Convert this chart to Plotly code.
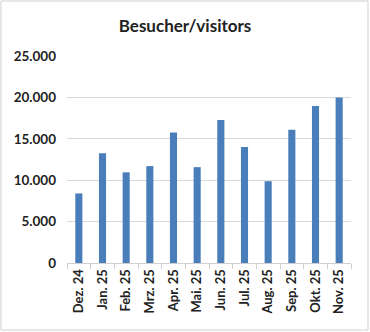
import plotly.graph_objects as go

months = ["Dez. 24", "Jan. 25", "Feb. 25", "Mrz. 25", "Apr. 25", "Mai. 25",
          "Jun. 25", "Jul. 25", "Aug. 25", "Sep. 25", "Okt. 25", "Nov. 25"]
visitors = [8400, 13250, 10950, 11700, 15750, 11580, 17280, 14000, 9880, 16080, 18950, 20000]
y_ticks = [0, 5000, 10000, 15000, 20000, 25000]
y_labels = ["<b>0</b>", "<b>5.000</b>", "<b>10.000</b>", "<b>15.000</b>", "<b>20.000</b>", "<b>25.000</b>"]

W, H = 370, 332
ml, mr, mt, mb = 67, 19, 56, 69
pw, ph = W - ml - mr, H - mt - mb

fig = go.Figure(go.Bar(x=months, y=visitors, marker_color="#4a7ebb",
                       marker_line_width=0, width=0.3))

font_fam = "Lato, 'Open Sans', sans-serif"
fig.update_layout(
    width=W, height=H,
    margin=dict(l=ml, r=mr, t=mt, b=mb),
    paper_bgcolor="white", plot_bgcolor="white",
    showlegend=False,
    title=dict(text="<b>Besucher/visitors</b>", x=0.5, xref="container", xanchor="center",
               y=1 - 26 / H, yanchor="middle",
               font=dict(family=font_fam, size=17, color="#222")),
    font=dict(family=font_fam, size=13, color="#222"),
    xaxis=dict(type="category", tickangle=-90, showgrid=False,
               tickvals=months, ticktext=["<b>" + m + "</b>" for m in months],
               showline=True, linecolor="#d0d0d0", linewidth=1,
               ticks="outside", tickson="boundaries", ticklen=5, tickcolor="#d0d0d0",
               tickfont=dict(family=font_fam, size=13, color="#222")),
    yaxis=dict(range=[0, 25000], tickvals=y_ticks, ticktext=y_labels,
               showgrid=True, gridcolor="#d9d9d9", gridwidth=1,
               zeroline=False, showline=False, ticks="", ticklabelstandoff=10,
               tickfont=dict(family=font_fam, size=13.5, color="#222")),
    shapes=[dict(type="rect", xref="paper", yref="paper",
                 x0=(1 - ml) / pw, x1=(W - 2 - ml) / pw,
                 y0=-(mb - 2) / ph, y1=1 + (mt - 1) / ph,
                 line=dict(color="#cfcfcf", width=1), layer="below")],
)

fig.write_html("out.html")
